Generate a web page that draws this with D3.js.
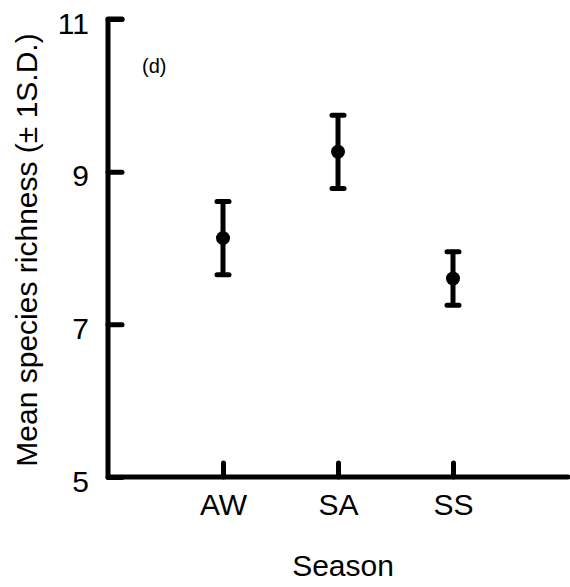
<!DOCTYPE html>
<html>
<head>
<meta charset="utf-8">
<script src="https://cdn.jsdelivr.net/npm/d3@7"></script>
<style>
  body { margin: 0; background: #fff; }
  svg text { font-family: "Liberation Sans", Arial, sans-serif; fill: #000; }
</style>
</head>
<body>
<div id="chart"></div>
<script>
// season means and standard deviations
var seasons = ["AW", "SA", "SS"]
var means = [8.13, 9.26, 7.60]
var sds = [0.48, 0.48, 0.35]
var yTicks = [5, 7, 9, 11]

var svgw = 570
var svgh = 587

var svg = d3.select('#chart').append('svg')
  .attr('width', svgw)
  .attr('height', svgh)

// categories sit at 1,2,3 on a 0..4 axis
var x = d3.scaleLinear()
  .domain([0, 4])
  .range([108, 568])
var y = d3.scaleLinear()
  .domain([5, 11])
  .range([477, 19])

var data = seasons.map(function(s, i){
  return {season: s, pos: i + 1, mean: means[i], sd: sds[i]}
})

// y axis
var yAxis = svg.append('g')
  .attr('transform', 'translate(' + x(0) + ',0)')
  .call(d3.axisRight(y).tickValues(yTicks).tickSize(14).tickFormat(d3.format('d')))
yAxis.select('.domain').remove()
yAxis.selectAll('.tick line').attr('stroke', '#000').attr('stroke-width', 5).attr('stroke-linecap', 'round')
yAxis.selectAll('.tick text')
  .attr('x', -19)
  .attr('dy', 14)
  .attr('text-anchor', 'end')
  .style('font-size', '30px')

// x axis
var xAxis = svg.append('g')
  .attr('transform', 'translate(0,' + y(5) + ')')
  .call(d3.axisTop(x).tickValues(data.map(function(d){ return d.pos })).tickSize(14)
    .tickFormat(function(d){ return seasons[d - 1] }))
xAxis.select('.domain').remove()
xAxis.selectAll('.tick line').attr('stroke', '#000').attr('stroke-width', 5).attr('stroke-linecap', 'round')
xAxis.selectAll('.tick text')
  .attr('y', 38)
  .attr('dy', 0)
  .style('font-size', '30px')

// axis lines drawn as one path so the corner joins
svg.append('path')
  .attr('d', 'M' + (x(0) + 14) + ',' + y(11) + 'H' + x(0) + 'V' + y(5) + 'H' + x(4))
  .attr('fill', 'none')
  .attr('stroke', '#000')
  .attr('stroke-width', 5)
  .attr('stroke-linecap', 'round')
  .attr('stroke-linejoin', 'round')

// error bars
var bars = svg.selectAll('.bar')
  .data(data)
  .enter()
  .append('g')
  .classed('bar', true)

bars.append('line')
  .attr('x1', function(d){ return x(d.pos) })
  .attr('x2', function(d){ return x(d.pos) })
  .attr('y1', function(d){ return y(d.mean + d.sd) })
  .attr('y2', function(d){ return y(d.mean - d.sd) })
  .attr('stroke', '#000')
  .attr('stroke-width', 5)

bars.selectAll('.cap')
  .data(function(d){ return [d.mean + d.sd, d.mean - d.sd].map(function(v){ return {pos: d.pos, v: v} }) })
  .enter()
  .append('line')
  .classed('cap', true)
  .attr('x1', function(d){ return x(d.pos) - 6 })
  .attr('x2', function(d){ return x(d.pos) + 6 })
  .attr('y1', function(d){ return y(d.v) })
  .attr('y2', function(d){ return y(d.v) })
  .attr('stroke', '#000')
  .attr('stroke-width', 5)
  .attr('stroke-linecap', 'round')

bars.append('circle')
  .attr('cx', function(d){ return x(d.pos) })
  .attr('cy', function(d){ return y(d.mean) })
  .attr('r', 7)
  .attr('fill', '#000')

// labels
svg.append('text')
  .attr('x', 142)
  .attr('y', 73)
  .style('font-size', '20px')
  .text('(d)')

svg.append('text')
  .attr('x', 343)
  .attr('y', 576)
  .attr('text-anchor', 'middle')
  .style('font-size', '30px')
  .text('Season')

svg.append('text')
  .attr('transform', 'translate(37,250) rotate(-90)')
  .attr('text-anchor', 'middle')
  .style('font-size', '30px')
  .text('Mean species richness (± 1S.D.)')
</script>
</body>
</html>
